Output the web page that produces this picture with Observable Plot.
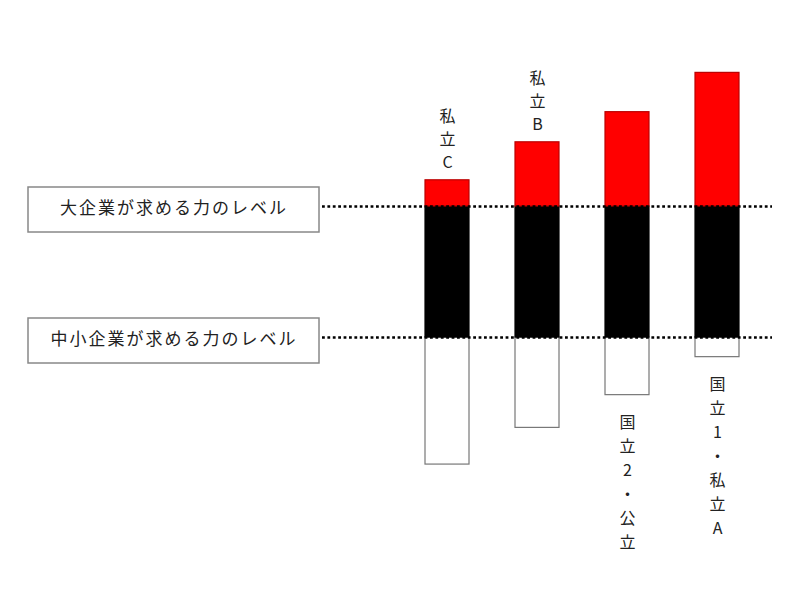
<!DOCTYPE html>
<html>
<head>
<meta charset="utf-8">
<script src="https://cdn.jsdelivr.net/npm/d3@7"></script>
<script src="https://cdn.jsdelivr.net/npm/@observablehq/plot@0.6"></script>
<style>
  html, body { margin: 0; padding: 0; background: #fff; }
  #chart { width: 800px; height: 600px; }
</style>
</head>
<body>
<div id="chart"></div>
<script>
// Universities (bar categories)
const universities = ["私立C", "私立B", "国立2・公立", "国立1・私立A"];
// Lower and upper ends of each group's ability range
const lows = [-97, -69, -44, -15];
const highs = [120, 149, 172, 202];
// Required levels
const levelNames = ["大企業が求める力のレベル", "中小企業が求める力のレベル"];
const levelValues = [100, 0];
const smeLevel = 0, largeLevel = 100;
// Label placement: above (top) or below (bottom) the bar
const labelSide = ["top", "top", "bottom", "bottom"];

const rows = universities.map((u, i) => ({name: u, low: lows[i], high: highs[i], side: labelSide[i]}));
const segments = [];
rows.forEach(r => {
  segments.push({name: r.name, y1: r.low, y2: smeLevel, part: "white"});
  segments.push({name: r.name, y1: smeLevel, y2: largeLevel, part: "black"});
  segments.push({name: r.name, y1: largeLevel, y2: r.high, part: "red"});
});
const vert = s => Array.from(s).join("\n");
const font = "'Noto Sans CJK JP', 'Noto Sans', sans-serif";

const chart = Plot.plot({
  width: 800,
  height: 600,
  marginLeft: 322,
  marginRight: 28,
  marginTop: 20,
  marginBottom: 20,
  style: {fontFamily: font, background: "#fff"},
  x: {type: "band", domain: universities, range: [400.8, 762], paddingInner: 0.514, paddingOuter: 0.257, axis: null},
  y: {type: "linear", domain: [0, 100], range: [337, 206], axis: null},
  color: {type: "ordinal", domain: ["white", "black", "red"], range: ["#ffffff", "#000000", "#ff0000"]},
  marks: [
    Plot.rectY(segments, {
      x: "name", y1: "y1", y2: "y2", fill: "part",
      stroke: d => d.part === "white" ? "#777" : d.part === "red" ? "#b00" : "#000",
      strokeWidth: 1.2
    }),
    Plot.ruleY(levelValues, {stroke: "#000", strokeWidth: 2.6, strokeDasharray: "2.8,2.6"}),
    Plot.text(rows.filter(r => r.side === "top"), {
      x: "name", y: "high", text: d => vert(d.name),
      lineAnchor: "bottom", lineHeight: 1.45, dy: -12,
      fontSize: 16, fill: "#222", fontFamily: font
    }),
    Plot.text(rows.filter(r => r.side === "bottom"), {
      x: "name", y: "low", text: d => vert(d.name),
      lineAnchor: "top", lineHeight: 1.5, dy: 16,
      fontSize: 16, fill: "#222", fontFamily: font
    })
  ]
});

// Level label boxes placed with the chart's own y scale
const yScale = chart.scale("y");
const svg = d3.select(chart);
levelNames.forEach((name, i) => {
  const yy = yScale.apply(levelValues[i]);
  const g = svg.append("g");
  g.append("rect")
    .attr("x", 28).attr("y", yy - 19).attr("width", 291).attr("height", 45)
    .attr("fill", "#fff").attr("stroke", "#888").attr("stroke-width", 1.5);
  g.append("text")
    .attr("x", 174).attr("y", yy + 3.5)
    .attr("text-anchor", "middle").attr("dominant-baseline", "middle")
    .attr("font-family", font).attr("font-size", 17).attr("letter-spacing", 2)
    .attr("fill", "#222").text(name);
});

document.getElementById("chart").appendChild(chart);
</script>
</body>
</html>
